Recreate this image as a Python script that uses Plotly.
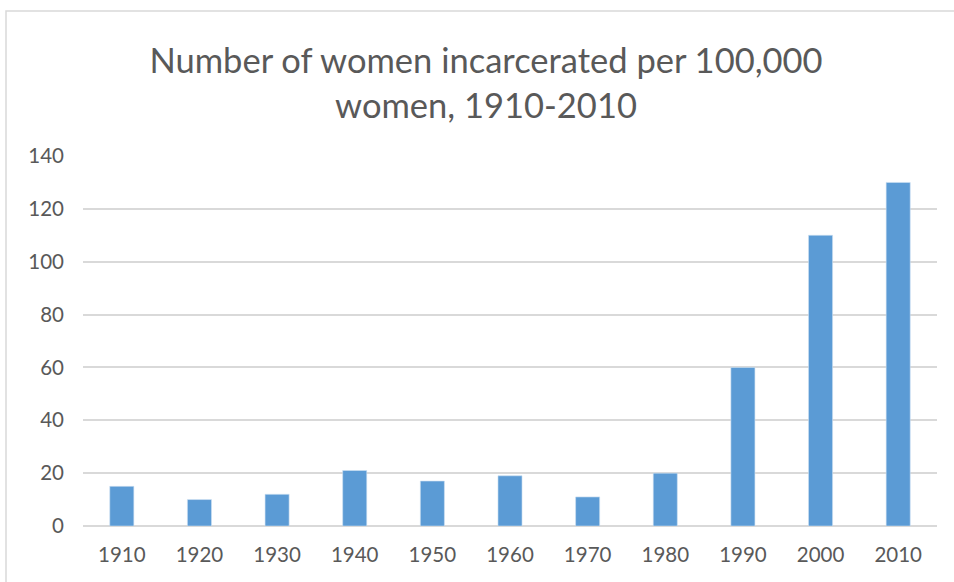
import plotly.graph_objects as go

years = ["1910", "1920", "1930", "1940", "1950", "1960", "1970", "1980", "1990", "2000", "2010"]
rates = [15, 10, 12, 21, 17, 19, 11, 20, 60, 110, 130]
y_ticks = [0, 20, 40, 60, 80, 100, 120, 140]

W, H = 954, 582
L, R, T, B = 83, 17, 156, 56
pw, ph = W - L - R, H - T - B

fig = go.Figure(go.Bar(
    x=years, y=rates,
    marker=dict(color="#5B9BD5", line=dict(color="#cfe0f2", width=0.6)),
    hoverinfo="x+y",
))

fig.update_layout(
    width=W, height=H,
    margin=dict(l=L, r=R, t=T, b=B),
    paper_bgcolor="white", plot_bgcolor="white",
    bargap=0.69,
    showlegend=False,
    font=dict(family="Lato, sans-serif", color="#595959"),
    title=dict(
        text="Number of women incarcerated per 100,000<br>women, 1910-2010",
        x=(486 - L) / pw, xref="paper", xanchor="center",
        y=1 - 73 / H, yref="container", yanchor="middle",
        font=dict(size=34.5, color="#595959", family="Lato, sans-serif"),
    ),
    xaxis=dict(
        type="category", showgrid=False, showline=False, ticks="",
        tickfont=dict(size=20.5, color="#595959"), ticklabelstandoff=14,
    ),
    yaxis=dict(
        range=[0, 140], tickvals=y_ticks, showgrid=True, gridcolor="#d9d9d9", gridwidth=1.5,
        zeroline=True, zerolinecolor="#d9d9d9", zerolinewidth=1.5,
        showline=False, ticks="", tickfont=dict(size=20.5, color="#595959"),
        ticklabelstandoff=18,
    ),
    shapes=[dict(
        type="rect", xref="paper", yref="paper",
        x0=(6 - L) / pw, x1=(W + 5 - L) / pw,
        y0=-(H + 5 - T - ph) / ph, y1=1 + (T - 11) / ph,
        line=dict(color="#d9d9d9", width=1.5), fillcolor="rgba(0,0,0,0)", layer="below",
    )],
)

fig.write_html("out.html", config={"displayModeBar": False},
               post_script="document.body.style.margin='0';")
